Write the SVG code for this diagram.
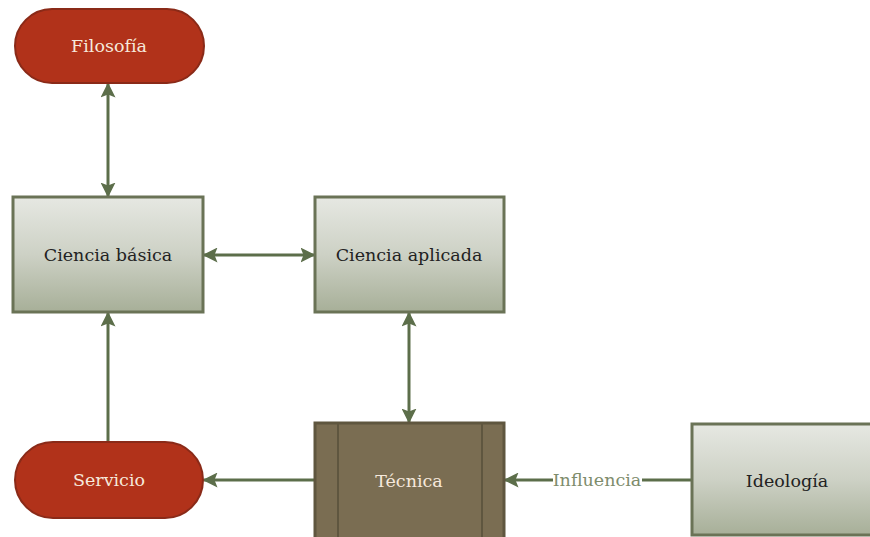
<svg xmlns="http://www.w3.org/2000/svg" width="870" height="537" viewBox="0 0 870 537">
<defs>
<linearGradient id="g" x1="0" y1="0" x2="0" y2="1">
<stop offset="0" stop-color="#e6e8e2"/>
<stop offset="0.5" stop-color="#cdd1c5"/>
<stop offset="1" stop-color="#a7af98"/>
</linearGradient>
<marker id="ah" viewBox="0 0 10 10" refX="9" refY="5" markerWidth="5" markerHeight="5" orient="auto-start-reverse" markerUnits="strokeWidth">
<path d="M0,0 L10,5 L0,10 L2,5 z" fill="#5c6e4a"/>
</marker>
</defs>
<style>
.box{fill:url(#g);stroke:#6a7356;stroke-width:3}
.pill{fill:#b1321a;stroke:#8a2a18;stroke-width:2}
.tec{fill:#7a6d52;stroke:#5f563f;stroke-width:3}
.conn{stroke:#5c6e4a;stroke-width:3;fill:none}
text{font-family:"DejaVu Serif","Liberation Serif",serif;font-size:17.5px;text-anchor:middle;dominant-baseline:central}
.dark{fill:#222}
.light{fill:#f6e9dc}
.lbl{fill:#7e8c6c}
</style>
<g id="connectors">
<line class="conn" x1="108" y1="84" x2="108" y2="196" marker-start="url(#ah)" marker-end="url(#ah)"/>
<line class="conn" x1="204" y1="255" x2="314" y2="255" marker-start="url(#ah)" marker-end="url(#ah)"/>
<line class="conn" x1="108" y1="442" x2="108" y2="313" marker-end="url(#ah)"/>
<line class="conn" x1="409" y1="313" x2="409" y2="422" marker-start="url(#ah)" marker-end="url(#ah)"/>
<line class="conn" x1="315" y1="480" x2="204" y2="480" marker-end="url(#ah)"/>
<line class="conn" x1="692" y1="480" x2="505" y2="480" marker-end="url(#ah)"/>
<rect x="553" y="469" width="89" height="22" fill="#fff"/>
<text class="lbl" x="597" y="480">Influencia</text>
</g>
<g id="filosofia">
<rect class="pill" x="15" y="9" width="189" height="74" rx="37"/>
<text class="light" x="109" y="46">Filosofía</text>
</g>
<g id="ciencia-basica">
<rect class="box" x="13" y="197" width="190" height="115"/>
<text class="dark" x="108" y="255">Ciencia básica</text>
</g>
<g id="ciencia-aplicada">
<rect class="box" x="315" y="197" width="189" height="115"/>
<text class="dark" x="409" y="255">Ciencia aplicada</text>
</g>
<g id="tecnica">
<rect class="tec" x="315" y="423" width="189" height="116"/>
<line x1="338" y1="423" x2="338" y2="539" stroke="#5f563f" stroke-width="2"/>
<line x1="482" y1="423" x2="482" y2="539" stroke="#5f563f" stroke-width="2"/>
<text class="light" x="409" y="481">Técnica</text>
</g>
<g id="servicio">
<rect class="pill" x="15" y="442" width="188" height="76" rx="38"/>
<text class="light" x="109" y="480">Servicio</text>
</g>
<g id="ideologia">
<rect class="box" x="692" y="424" width="190" height="111"/>
<text class="dark" x="787" y="481">Ideología</text>
</g>
</svg>
